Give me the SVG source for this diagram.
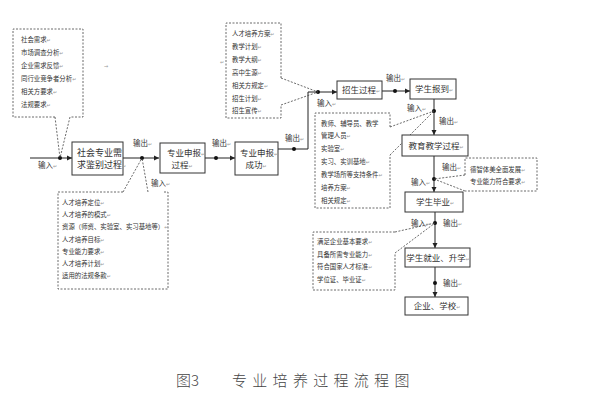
<svg xmlns="http://www.w3.org/2000/svg" width="592" height="407" viewBox="0 0 592 407">
<style>
text{font-family:"Noto Sans CJK SC","Noto Sans",sans-serif;fill:#333}
.bx{font-size:8.5px}
.lb{font-size:7.5px}
.sm{font-size:6.4px}
.pm{fill:#999;font-family:"DejaVu Sans",sans-serif;font-size:5px}
.node{fill:#fff;stroke:#333;stroke-width:1}
.dash{fill:none;stroke:#444;stroke-width:0.8;stroke-dasharray:2,1.5}
.ln{fill:none;stroke:#222;stroke-width:1}
.dot{fill:#111}
</style>
<defs>
<marker id="ah" markerWidth="6" markerHeight="6" refX="5" refY="3" orient="auto" markerUnits="userSpaceOnUse">
<path d="M0,0.5 L5,3 L0,5.5 Z" fill="#222"/>
</marker>
</defs>
<rect width="592" height="407" fill="#fff"/>

<g id="connectors">
<path class="ln" d="M30,158 H72" marker-end="url(#ah)"/>
<path class="ln" d="M123,158 H159" marker-end="url(#ah)"/>
<path class="ln" d="M205,158 H235" marker-end="url(#ah)"/>
<path class="ln" d="M278,149 H308 V92 H337" marker-end="url(#ah)"/>
<path class="ln" d="M382,91 H410" marker-end="url(#ah)"/>
<path class="ln" d="M434,99 V135" marker-end="url(#ah)"/>
<path class="ln" d="M434,156 V192" marker-end="url(#ah)"/>
<path class="ln" d="M435,212 V248" marker-end="url(#ah)"/>
<path class="ln" d="M435,267 V297" marker-end="url(#ah)"/>
<circle class="dot" cx="60" cy="158" r="2"/>
<circle class="dot" cx="142" cy="158" r="2"/>
<circle class="dot" cx="216" cy="158" r="2"/>
<circle class="dot" cx="294" cy="149" r="2"/>
<circle class="dot" cx="318" cy="92" r="2"/>
<circle class="dot" cx="395" cy="91" r="2"/>
<circle class="dot" cx="434" cy="111" r="2"/>
<circle class="dot" cx="434" cy="179" r="2"/>
<circle class="dot" cx="435" cy="223" r="2"/>
<circle class="dot" cx="435" cy="283" r="2"/>
<path class="dash" d="M55,117 L60,158 M70,117 L60,158"/>
<path class="dash" d="M123,192 L142,158 M148,192 L142,158"/>
<path class="dash" d="M281,78 L318,92 M281,105 L318,92"/>
<path class="dash" d="M390,127 L434,111 M390,155 L434,111"/>
<path class="dash" d="M465,175 L434,179 M465,191 L434,179"/>
<path class="dash" d="M395,232 L435,223 M395,253 L435,223"/>
<text class="lb" x="38" y="168">输入<tspan class="pm">↵</tspan></text>
<text class="lb" x="133" y="146">输出<tspan class="pm">↵</tspan></text>
<text class="lb" x="151" y="186">输入<tspan class="pm">↵</tspan></text>
<text class="lb" x="212" y="146">输出<tspan class="pm">↵</tspan></text>
<text class="lb" x="285" y="141">输出<tspan class="pm">↵</tspan></text>
<text class="lb" x="317" y="106">输入<tspan class="pm">↵</tspan></text>
<text class="lb" x="386" y="81">输出<tspan class="pm">↵</tspan></text>
<text class="lb" x="407" y="111">输入<tspan class="pm">↵</tspan></text>
<text class="lb" x="439" y="124">输出<tspan class="pm">↵</tspan></text>
<text class="lb" x="442" y="170">输出<tspan class="pm">↵</tspan></text>
<text class="lb" x="411" y="185">输入<tspan class="pm">↵</tspan></text>
<text class="lb" x="411" y="226">输入<tspan class="pm">↵</tspan></text>
<text class="lb" x="443" y="226">输出<tspan class="pm">↵</tspan></text>
<text class="lb" x="443" y="286">输出<tspan class="pm">↵</tspan></text>
<text class="pm" x="104" y="68">→</text>
<text class="pm" x="220" y="64">↵</text>
</g>

<g id="n-ann1">
<path class="dash" d="M55,117 L13,117 L13,29 L83,29 L83,117 L70,117"/>
<text class="sm" x="21" y="42">社会需求<tspan class="pm">↵</tspan></text>
<text class="sm" x="21" y="55">市场调查分析<tspan class="pm">↵</tspan></text>
<text class="sm" x="21" y="68">企业需求反馈<tspan class="pm">↵</tspan></text>
<text class="sm" x="21" y="81">同行业竞争者分析<tspan class="pm">↵</tspan></text>
<text class="sm" x="21" y="94">相关方要求<tspan class="pm">↵</tspan></text>
<text class="sm" x="21" y="107">法规要求<tspan class="pm">↵</tspan></text>
</g>

<g id="n-identify">
<rect class="node" x="72" y="142" width="51" height="33"/>
<text class="bx" x="77" y="156" style="font-size:9px">社会专业需</text>
<text class="bx" x="77" y="168" style="font-size:9px">求鉴别过程<tspan class="pm">↵</tspan></text>
</g>

<g id="n-ann3">
<path class="dash" d="M123,192 L58,192 L58,289 L168,289 L168,192 L163,192"/>
<text class="sm" x="62" y="205">人才培养定位<tspan class="pm">↵</tspan></text>
<text class="sm" x="62" y="217">人才培养的模式<tspan class="pm">↵</tspan></text>
<text class="sm" x="62" y="229">资源（师资、实验室、实习基地等）<tspan class="pm">↵</tspan></text>
<text class="sm" x="62" y="242">人才培养目标<tspan class="pm">↵</tspan></text>
<text class="sm" x="62" y="254">专业能力要求<tspan class="pm">↵</tspan></text>
<text class="sm" x="62" y="266">人才培养计划<tspan class="pm">↵</tspan></text>
<text class="sm" x="62" y="278">适用的法规条款<tspan class="pm">↵</tspan></text>
</g>

<g id="n-apply">
<rect class="node" x="160" y="143" width="45" height="30"/>
<text class="bx" x="167" y="156">专业申报<tspan class="pm">↵</tspan></text>
<text class="bx" x="182" y="168" text-anchor="middle">过程<tspan class="pm">↵</tspan></text>
</g>

<g id="n-success">
<rect class="node" x="235" y="142" width="43" height="33"/>
<text class="bx" x="240" y="156">专业申报<tspan class="pm">↵</tspan></text>
<text class="bx" x="256" y="168" text-anchor="middle">成功<tspan class="pm">↵</tspan></text>
</g>

<g id="n-ann5">
<path class="dash" d="M281,78 L281,23 L226,23 L226,118 L281,118 L281,105"/>
<text class="sm" x="232" y="36">人才培养方案<tspan class="pm">↵</tspan></text>
<text class="sm" x="232" y="49">教学计划<tspan class="pm">↵</tspan></text>
<text class="sm" x="232" y="62">教学大纲<tspan class="pm">↵</tspan></text>
<text class="sm" x="232" y="75">高中生源<tspan class="pm">↵</tspan></text>
<text class="sm" x="232" y="88">相关方规定<tspan class="pm">↵</tspan></text>
<text class="sm" x="232" y="101">招生计划<tspan class="pm">↵</tspan></text>
<text class="sm" x="232" y="113">招生宣传<tspan class="pm">↵</tspan></text>
</g>

<g id="n-enroll">
<rect class="node" x="337" y="81" width="45" height="18"/>
<text class="bx" x="361" y="93" text-anchor="middle">招生过程<tspan class="pm">↵</tspan></text>
</g>

<g id="n-register">
<rect class="node" x="410" y="79" width="46" height="20"/>
<text class="bx" x="434" y="92" text-anchor="middle">学生报到<tspan class="pm">↵</tspan></text>
</g>

<g id="n-ann6">
<path class="dash" d="M390,127 L390,113 L315,113 L315,208 L390,208 L390,155"/>
<text class="sm" x="321" y="126">教师、辅导员、教学</text>
<text class="sm" x="321" y="138">管理人员<tspan class="pm">↵</tspan></text>
<text class="sm" x="321" y="151">实验室<tspan class="pm">↵</tspan></text>
<text class="sm" x="321" y="164">实习、实训基地<tspan class="pm">↵</tspan></text>
<text class="sm" x="321" y="177">教学场所等支持条件<tspan class="pm">↵</tspan></text>
<text class="sm" x="321" y="190">培养方案<tspan class="pm">↵</tspan></text>
<text class="sm" x="321" y="203">相关规定<tspan class="pm">↵</tspan></text>
</g>

<g id="n-teach">
<rect class="node" x="402" y="135" width="66" height="21"/>
<text class="bx" x="436" y="149" text-anchor="middle">教育教学过程<tspan class="pm">↵</tspan></text>
</g>

<g id="n-ann7">
<path class="dash" d="M465,175 L465,158 L537,158 L537,191 L465,191"/>
<text class="sm" x="470" y="172">德智体美全面发展<tspan class="pm">↵</tspan></text>
<text class="sm" x="470" y="184">专业能力符合要求<tspan class="pm">↵</tspan></text>
</g>

<g id="n-graduate">
<rect class="node" x="405" y="192" width="58" height="20"/>
<text class="bx" x="435" y="205" text-anchor="middle">学生毕业<tspan class="pm">↵</tspan></text>
</g>

<g id="n-ann8">
<path class="dash" d="M395,232 L313,232 L313,290 L395,290 L395,253"/>
<text class="sm" x="317" y="244">满足企业基本要求<tspan class="pm">↵</tspan></text>
<text class="sm" x="317" y="257">具备所需专业能力<tspan class="pm">↵</tspan></text>
<text class="sm" x="317" y="269">符合国家人才标准<tspan class="pm">↵</tspan></text>
<text class="sm" x="317" y="282">学位证、毕业证<tspan class="pm">↵</tspan></text>
</g>

<g id="n-employ">
<rect class="node" x="405" y="248" width="65" height="19"/>
<text class="bx" x="438" y="261" text-anchor="middle">学生就业、升学<tspan class="pm">↵</tspan></text>
</g>

<g id="n-company">
<rect class="node" x="405" y="297" width="63" height="18"/>
<text class="bx" x="437" y="309" text-anchor="middle">企业、学校<tspan class="pm">↵</tspan></text>
</g>

<g id="caption">
<text x="176" y="386" style="font-size:15px;fill:#444;font-weight:300">图3</text>
<text x="232" y="386" style="font-size:15px;fill:#444;font-weight:300;letter-spacing:5.3px">专业培养过程流程图</text>
</g>
</svg>
